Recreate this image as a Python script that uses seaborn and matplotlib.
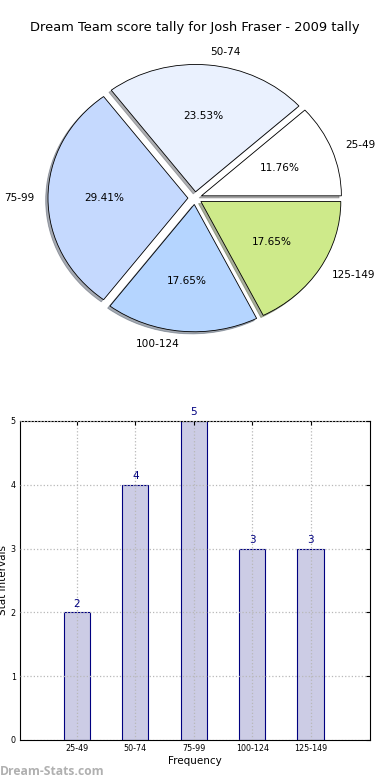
import matplotlib
matplotlib.use("Agg")
import matplotlib.pyplot as plt
import seaborn as sns
import pandas as pd

intervals = ["25-49", "50-74", "75-99", "100-124", "125-149"]
counts = [2, 4, 5, 3, 3]
pie_colors = ["#ffffff", "#eaf1fe", "#c5d9fe", "#b5d5ff", "#ceea8a"]

sns.set_style("white")
plt.rcParams["font.family"] = ["DejaVu Sans"]
plt.rcParams["text.color"] = "black"
plt.rcParams["axes.labelcolor"] = "black"
plt.rcParams["xtick.color"] = "black"
plt.rcParams["ytick.color"] = "black"

fig = plt.figure(figsize=(3.9, 7.8), dpi=100)

# pie on top
ax1 = fig.add_axes([0.0513, 0.542, 0.897, 0.408])
ax1.pie(counts, labels=intervals, colors=pie_colors, explode=[0.05] * 5,
        autopct="%.2f%%", shadow={"ox": -0.012, "oy": -0.012, "shade": 0.6},
        startangle=0,
        wedgeprops={"edgecolor": "black", "linewidth": 0.6},
        textprops={"fontsize": 7.6})
ax1.set_aspect("auto")
ax1.set_xlim(-1.25, 1.25)
ax1.set_ylim(-1.25, 1.25)
ax1.set_title("Dream Team score tally for Josh Fraser - 2009 tally", fontsize=9.4, pad=6)

# bar chart below
df = pd.DataFrame({"interval": intervals, "count": counts})
ax2 = fig.add_axes([0.0513, 0.0513, 0.897, 0.409])
sns.barplot(data=df, x="interval", y="count", ax=ax2, color="#ccccE5",
            edgecolor="#000080", linewidth=0.8, width=0.45, saturation=1)
for i, v in enumerate(counts):
    ax2.text(i, v + 0.06, str(v), ha="center", va="bottom", fontsize=7.5, color="#000080")
ax2.set_xlim(-0.975, 5.015)
ax2.set_ylim(0, 5)
ax2.set_yticks(range(6))
ax2.grid(True, linestyle=":", color="#b8b8b8", linewidth=0.9)
ax2.set_axisbelow(False)
ax2.tick_params(axis="both", labelsize=5.8, direction="in", length=3, right=True, top=True, pad=3)
for s in ax2.spines.values():
    s.set_visible(True)
    s.set_color("black")
    s.set_linewidth(0.8)
ax2.set_xlabel("Frequency", fontsize=7.5, labelpad=2)
ax2.set_ylabel("Stat Intervals", fontsize=7.5, labelpad=2)

fig.text(0.0, 0.003, "Dream-Stats.com", fontsize=8.7, color="#b0b0b0",
         fontweight="bold", family=["Open Sans", "DejaVu Sans"], va="bottom")

fig.savefig("out.png", dpi=100)
